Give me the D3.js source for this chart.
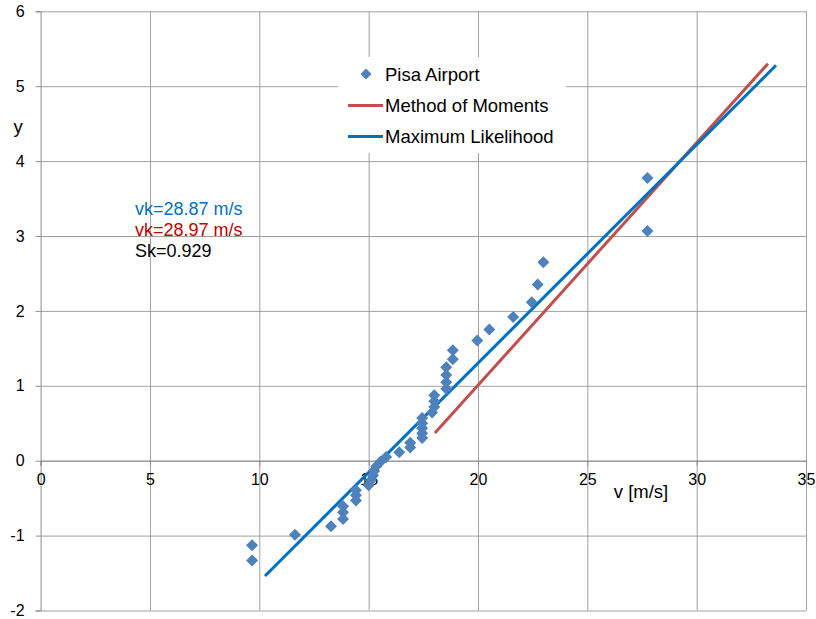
<!DOCTYPE html>
<html>
<head>
<meta charset="utf-8">
<script src="https://cdn.jsdelivr.net/npm/d3@7"></script>
<style>
  html, body { margin: 0; padding: 0; background: #fff; }
  svg { display: block; font-family: "Liberation Sans", Arial, sans-serif; }
</style>
</head>
<body>
<svg id="chart" width="816" height="619"></svg>
<script>
// ---- data ----
const speeds = [9.67, 9.67, 11.63, 13.28, 13.83, 13.83, 13.83, 14.42, 14.42, 14.42,
  15.0, 15.1, 15.2, 15.25, 15.35, 15.55, 15.8, 16.4, 16.9, 16.9,
  17.45, 17.45, 17.45, 17.45, 17.45, 17.9, 18.0, 18.0, 18.0, 18.55,
  18.55, 18.55, 18.55, 18.85, 18.85, 19.97, 20.52, 21.61, 22.46, 22.73,
  22.99, 27.75, 27.75];
const reducedVariate = [-1.331, -1.128, -0.988, -0.875, -0.777, -0.689, -0.609, -0.533, -0.462, -0.393,
  -0.327, -0.262, -0.198, -0.136, -0.073, -0.012, 0.050, 0.112, 0.175, 0.238,
  0.302, 0.367, 0.433, 0.501, 0.570, 0.642, 0.717, 0.794, 0.875, 0.960,
  1.049, 1.144, 1.246, 1.356, 1.475, 1.606, 1.753, 1.920, 2.115, 2.351,
  2.650, 3.068, 3.773];
const momLineV = [18.03, 33.26];
const momLineY = [0.37, 5.30];
const mlLineV = [10.26, 33.63];
const mlLineY = [-1.54, 5.28];
const xTicks = [0, 5, 10, 15, 20, 25, 30, 35];
const yTicks = [-2, -1, 0, 1, 2, 3, 4, 5, 6];
const seriesNames = ["Pisa Airport", "Method of Moments", "Maximum Likelihood"];
const annotations = ["vk=28.87 m/s", "vk=28.97 m/s", "Sk=0.929"];

// ---- layout ----
const svg = d3.select("#chart");
const L = 40.6, R = 806, T = 11.3, B = 610.5;
const x = d3.scaleLinear().domain([0, 35]).range([L, R]);
const y = d3.scaleLinear().domain([-2, 6]).range([B, T]);
const gridColor = "#a0a0a0";
const axisColor = "#8c8c8c";
const fmt = d => String(d);

// gridlines
svg.append("g").attr("transform", `translate(${L},0)`)
  .call(d3.axisLeft(y).tickValues(yTicks).tickSize(-(R - L)).tickFormat(""))
  .call(g => g.select(".domain").remove())
  .call(g => g.selectAll("line").attr("stroke", gridColor).attr("stroke-width", 1));
svg.append("g").attr("transform", `translate(0,${B})`)
  .call(d3.axisBottom(x).tickValues(xTicks.slice(1)).tickSize(-(B - T)).tickFormat(""))
  .call(g => g.select(".domain").remove())
  .call(g => g.selectAll("line").attr("stroke", gridColor).attr("stroke-width", 1));

// y axis
svg.append("g").attr("transform", `translate(${L},0)`)
  .call(d3.axisLeft(y).tickValues(yTicks).tickSize(5).tickPadding(11).tickFormat(fmt))
  .call(g => g.select(".domain").attr("stroke", axisColor))
  .call(g => g.selectAll("line").attr("stroke", axisColor))
  .call(g => g.selectAll("text").attr("font-size", 16).attr("fill", "#000")
      .attr("font-family", "Liberation Sans, Arial, sans-serif"));

// x axis at y = 0
svg.append("g").attr("transform", `translate(0,${y(0)})`)
  .call(d3.axisBottom(x).tickValues(xTicks).tickSize(5).tickPadding(8).tickFormat(fmt))
  .call(g => g.select(".domain").attr("stroke", axisColor))
  .call(g => g.selectAll("line").attr("stroke", axisColor))
  .call(g => g.selectAll("text").attr("font-size", 16).attr("fill", "#000")
      .attr("font-family", "Liberation Sans, Arial, sans-serif"));

// axis titles
svg.append("text").attr("x", 18).attr("y", 133).attr("text-anchor", "middle")
  .attr("font-size", 18.5).text("y");
svg.append("text").attr("x", 641).attr("y", 498).attr("text-anchor", "middle")
  .attr("font-size", 18.5).text("v [m/s]");

// lines
const line = d3.line().x(d => x(d[0])).y(d => y(d[1]));
svg.append("path").datum(d3.zip(momLineV, momLineY))
  .attr("d", line).attr("fill", "none").attr("stroke", "#C0504D").attr("stroke-width", 3);
svg.append("path").datum(d3.zip(mlLineV, mlLineY))
  .attr("d", line).attr("fill", "none").attr("stroke", "#0070C0").attr("stroke-width", 3);

// points
const diamond = "M0,-6L6,0L0,6L-6,0Z";
svg.append("g").selectAll("path").data(d3.zip(speeds, reducedVariate)).join("path")
  .attr("d", diamond)
  .attr("transform", d => `translate(${x(d[0])},${y(d[1])})`)
  .attr("fill", "#4F81BD");

// legend
const lg = svg.append("g");
lg.append("rect").attr("x", 338).attr("y", 57).attr("width", 228).attr("height", 96).attr("fill", "#fff");
lg.append("path").attr("d", "M0,-5.5L5.5,0L0,5.5L-5.5,0Z").attr("transform", "translate(366,74)").attr("fill", "#4F81BD");
lg.append("line").attr("x1", 348).attr("x2", 383).attr("y1", 105.5).attr("y2", 105.5)
  .attr("stroke", "#C0504D").attr("stroke-width", 3);
lg.append("line").attr("x1", 348).attr("x2", 383).attr("y1", 136.5).attr("y2", 136.5)
  .attr("stroke", "#0070C0").attr("stroke-width", 3);
lg.selectAll("text.lt").data(seriesNames).join("text").attr("class", "lt")
  .attr("x", 385).attr("y", (d, i) => 80.5 + i * 31)
  .attr("font-size", 18.5).attr("fill", "#000").text(d => d);

// annotations
const annColors = ["#0070C0", "#C00000", "#000000"];
svg.selectAll("text.ann").data(annotations).join("text").attr("class", "ann")
  .attr("x", 135).attr("y", (d, i) => 215 + i * 21)
  .attr("font-size", 18).attr("fill", (d, i) => annColors[i]).text(d => d);
</script>
</body>
</html>
